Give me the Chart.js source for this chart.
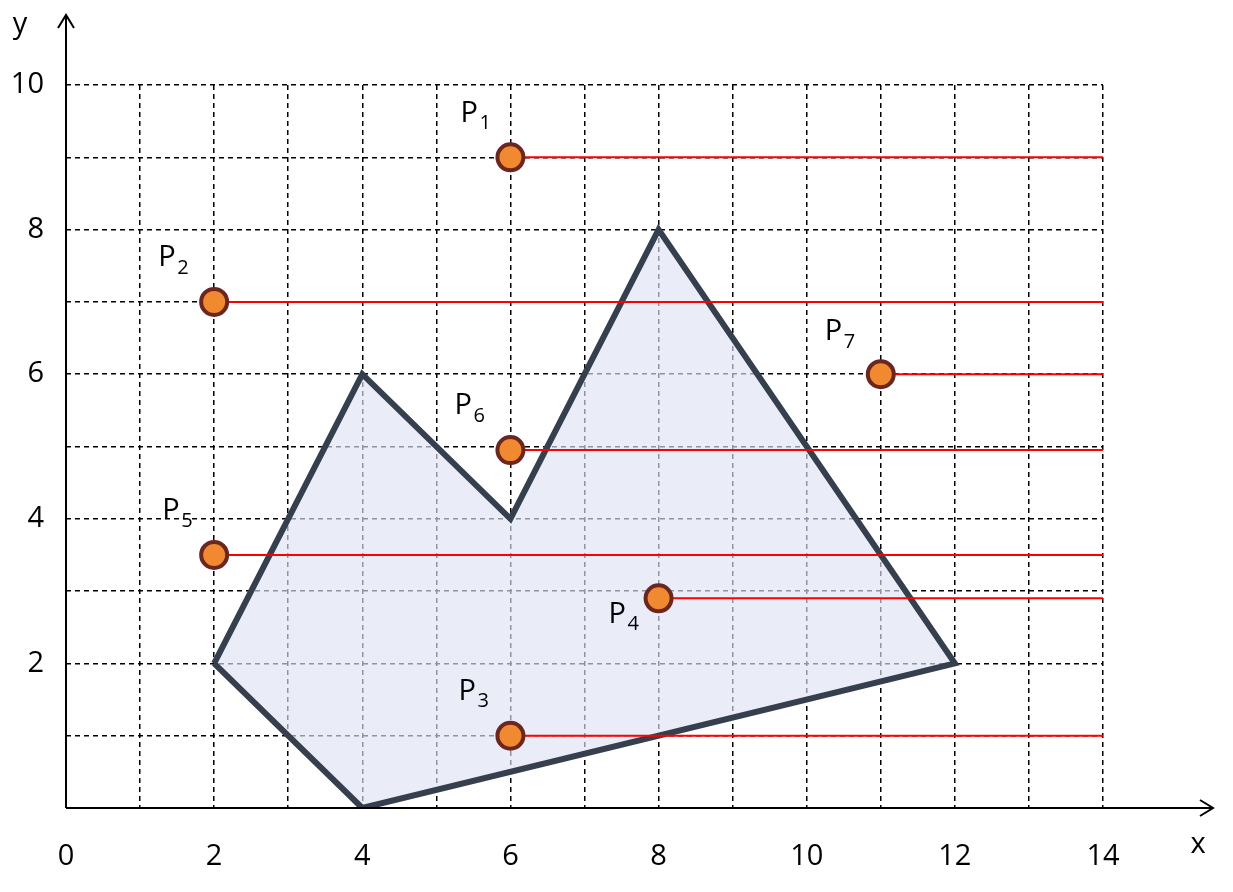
<!DOCTYPE html>
<html>
<head>
<meta charset="utf-8">
<script src="https://cdn.jsdelivr.net/npm/chart.js@4"></script>
<style>html,body{margin:0;background:#fff}</style>
</head>
<body>
<canvas id="c" width="1233" height="892"></canvas>
<script>
// polygon vertices (closed)
const polyX = [2, 4, 6, 8, 12, 4, 2];
const polyY = [2, 6, 4, 8, 2, 0, 2];
// test points
const ptNames = ['1', '2', '3', '4', '5', '6', '7'];
const ptX = [6, 2, 6, 8, 2, 6, 11];
const ptY = [9, 7, 1, 2.9, 3.5, 4.95, 6];
const rayEnd = 14;
const xTicks = [0, 2, 4, 6, 8, 10, 12, 14];
const yTicks = [2, 4, 6, 8, 10];
// label offsets (px) relative to each point
const lblDx = [-40, -46, -42, -40, -42, -46, -46];
const lblDy = [-44, -44, -44, 16, -44, -44, -42];

const FONT = '"Open Sans", "Noto Sans", Arial, sans-serif';

const datasets = [{
  data: polyX.map((x, i) => ({ x, y: polyY[i] })),
  showLine: true,
  fill: 'shape',
  backgroundColor: 'rgba(222,228,244,0.65)',
  borderColor: '#363f4e',
  borderWidth: 6,
  pointRadius: 0,
  order: 3
}];
ptX.forEach((x, i) => {
  datasets.push({
    data: [{ x, y: ptY[i] }, { x: rayEnd, y: ptY[i] }],
    showLine: true,
    borderColor: '#ff0000',
    borderWidth: 2,
    pointRadius: 0,
    order: 2
  });
});
datasets.push({
  data: ptX.map((x, i) => ({ x, y: ptY[i] })),
  showLine: false,
  pointRadius: 13,
  pointBackgroundColor: '#f0892f',
  pointBorderColor: '#6b2620',
  pointBorderWidth: 4,
  order: 1
});

const overlay = {
  id: 'overlay',
  afterDraw(chart) {
    const ctx = chart.ctx, xs = chart.scales.x, ys = chart.scales.y;
    const x0 = xs.getPixelForValue(0), y0 = ys.getPixelForValue(0);
    ctx.save();
    // axes with arrows
    ctx.strokeStyle = '#000'; ctx.lineWidth = 2;
    ctx.beginPath();
    ctx.moveTo(x0, y0); ctx.lineTo(1213, y0);
    ctx.moveTo(1200, y0 - 8); ctx.lineTo(1213, y0); ctx.lineTo(1200, y0 + 8);
    ctx.moveTo(x0, y0); ctx.lineTo(x0, 15);
    ctx.moveTo(x0 - 8, 28); ctx.lineTo(x0, 15); ctx.lineTo(x0 + 8, 28);
    ctx.stroke();
    ctx.fillStyle = '#000';
    ctx.font = '29px ' + FONT;
    ctx.textAlign = 'center'; ctx.textBaseline = 'middle';
    xTicks.forEach(v => ctx.fillText(String(v), xs.getPixelForValue(v), 857));
    ctx.textAlign = 'right';
    yTicks.forEach(v => ctx.fillText(String(v), 44, ys.getPixelForValue(v)));
    ctx.textAlign = 'center';
    ctx.fillText('x', 1198, 845);
    ctx.fillText('y', 20, 25);
    // point labels
    ptX.forEach((x, i) => {
      const px = xs.getPixelForValue(x) + lblDx[i];
      const py = ys.getPixelForValue(ptY[i]) + lblDy[i];
      ctx.font = '29px ' + FONT; ctx.textAlign = 'left';
      ctx.fillText('P', px - 10, py);
      ctx.font = '20px ' + FONT;
      ctx.fillText(ptNames[i], px + 9, py + 10);
    });
    ctx.restore();
  }
};

new Chart(document.getElementById('c'), {
  type: 'scatter',
  data: { datasets },
  plugins: [overlay],
  options: {
    responsive: false,
    animation: false,
    layout: { padding: { left: 66, right: 130, top: 85, bottom: 84 } },
    plugins: { legend: { display: false }, tooltip: { enabled: false } },
    scales: {
      x: {
        min: 0, max: 14,
        ticks: { display: false, stepSize: 1 },
        grid: { color: '#000', lineWidth: 1.5, drawTicks: false },
        border: { display: false, dash: [5, 4] }
      },
      y: {
        min: 0, max: 10,
        ticks: { display: false, stepSize: 1 },
        grid: { color: '#000', lineWidth: 1.5, drawTicks: false },
        border: { display: false, dash: [5, 4] }
      }
    }
  }
});
</script>
</body>
</html>
